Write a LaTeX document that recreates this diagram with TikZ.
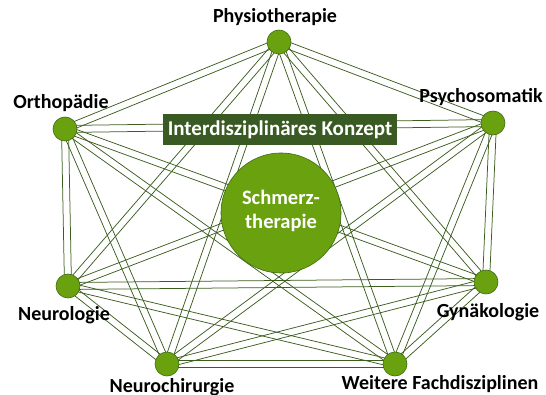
\documentclass[tikz,border=0pt]{standalone}
\usepackage{fontspec}
\setmainfont{Carlito}
\usetikzlibrary{calc}
\definecolor{lineg}{HTML}{3B5E1F}
\definecolor{fillg}{HTML}{6AA10F}
\definecolor{edgeg}{HTML}{3F6B12}
\definecolor{bannerg}{HTML}{3A5A24}
\begin{document}
\begin{tikzpicture}[x=1pt,y=1pt,
  outer/.style={circle,fill=fillg,draw=edgeg,line width=0.6pt,minimum size=24pt,inner sep=0pt},
  lbl/.style={font=\bfseries\fontsize{20}{22}\selectfont,text=black,inner sep=0pt},
  conn/.style={draw=lineg,line width=0.75pt}]
\useasboundingbox (0,0) rectangle (546,394);
\coordinate (P) at (279,352);
\coordinate (O) at (65,265);
\coordinate (S) at (493,271);
\coordinate (N) at (68,108);
\coordinate (G) at (486,112);
\coordinate (C) at (167,30);
\coordinate (W) at (395,30);
\foreach \a/\b in {P/O,P/S,P/N,P/G,P/C,P/W,O/S,O/N,O/G,O/C,O/W,S/N,S/G,S/C,S/W,N/G,N/C,N/W,G/C,G/W,C/W}{
  \draw[conn] ($(\a)!3.5pt!90:(\b)$) -- ($(\b)!3.5pt!-90:(\a)$);
  \draw[conn] ($(\a)!3.5pt!-90:(\b)$) -- ($(\b)!3.5pt!90:(\a)$);
}
\node[outer] (nP) at (P) {};
\node[outer] (nO) at (O) {};
\node[outer] (nS) at (S) {};
\node[outer] (nN) at (N) {};
\node[outer] (nG) at (G) {};
\node[outer] (nC) at (C) {};
\node[outer] (nW) at (W) {};
\node[circle,fill=fillg,draw=edgeg,line width=0.6pt,minimum size=120pt,inner sep=0pt] (center) at (281,181) {};
\node[text=white,font=\bfseries\fontsize{20.5}{24}\selectfont,align=center,inner sep=0pt] (ctext) at (281,183) {Schmerz-\\therapie};
\node[fill=bannerg,minimum width=234pt,minimum height=31pt,inner sep=0pt,
  text=white,font=\bfseries\fontsize{21}{23}\selectfont] (banner) at (280,264.5) {Interdisziplinäres Konzept};
\node[lbl] (tP) at (275,377) {Physiotherapie};
\node[lbl] (tO) at (61,291) {Orthopädie};
\node[lbl] (tS) at (481,297) {Psychosomatik};
\node[lbl] (tN) at (64,79) {Neurologie};
\node[lbl] (tG) at (488,82) {Gynäkologie};
\node[lbl] (tC) at (172,7) {Neurochirurgie};
\node[lbl] (tW) at (440,10) {Weitere Fachdisziplinen};
\end{tikzpicture}
\end{document}
